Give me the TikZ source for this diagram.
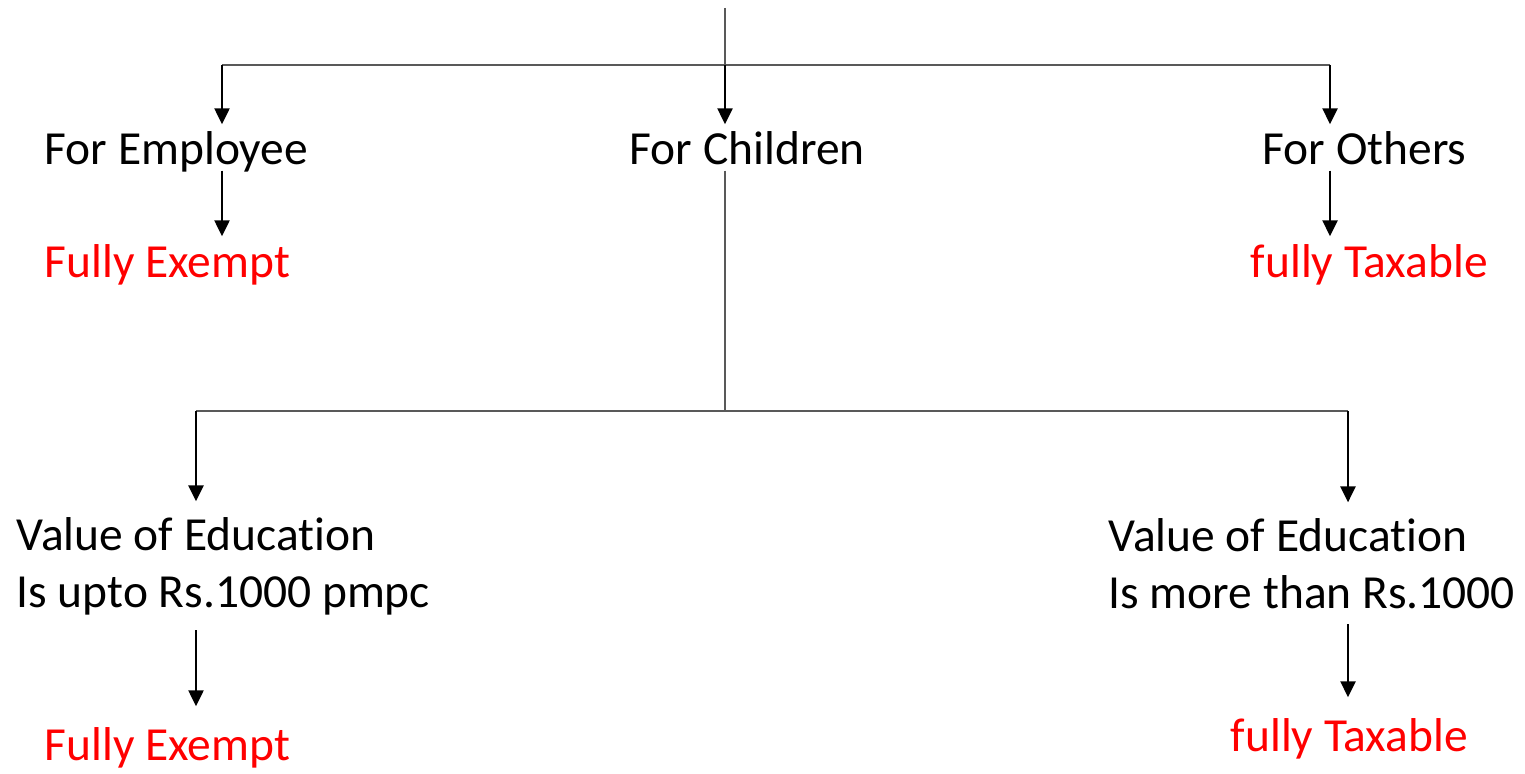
\documentclass[tikz,border=0pt]{standalone}
\usepackage{fontspec}
\setmainfont{Carlito}[Ligatures=NoCommon]
\usetikzlibrary{arrows.meta}
\definecolor{treegray}{RGB}{89,89,89}
\tikzset{
    lbl/.style={font=\fontsize{13.5}{16.2}\selectfont, inner sep=0pt, anchor=base west,
        text height=0.40cm, text depth=0.05cm},
    res/.style={lbl, text=red},
    cond/.style={font=\fontsize{13.5}{16.2}\selectfont, inner xsep=0pt, inner ysep=0.15cm,
        anchor=base west, align=left},
    tree/.style={draw=treegray, line width=0.45pt},
    arr/.style={draw=black, line width=0.7pt, -{Triangle[width=0.15cm,length=0.16cm]}}
}
\begin{document}
\begin{tikzpicture}[x=0.01cm, y=-0.01cm]
    \useasboundingbox (0,0) rectangle (1525,773);
    % first split
    \coordinate (top) at (725,8);
    \coordinate (j1) at (725,65);
    \coordinate (l1) at (222,65);
    \coordinate (r1) at (1330,65);
    \node[lbl] (emp) at (44,165) {For Employee};
    \node[lbl] (chi) at (629,165) {For Children};
    \node[lbl] (oth) at (1262,165) {For Others};
    \node[res] (empres) at (44,277) {Fully Exempt};
    \node[res] (othres) at (1250,277) {fully Taxable};

    % second split
    \coordinate (j2) at (725,411);
    \coordinate (l2) at (196,411);
    \coordinate (r2) at (1348,411);
    \node[cond] (low) at (16,607) {Value of Education\\Is upto Rs.1000 pmpc};
    \node[cond] (high) at (1108,608) {Value of Education\\Is more than Rs.1000};
    \node[res, text height=0.53cm] (lowres) at (44,760) {Fully Exempt};
    \node[res, text height=0.53cm] (highres) at (1230,751) {fully Taxable};

    \draw[tree] (top) -- (j1);
    \draw[tree] (l1) -- (r1);
    \draw[arr] (l1) -- (l1 |- emp.north);
    \draw[arr] (j1) -- (j1 |- chi.north);
    \draw[arr] (r1) -- (r1 |- oth.north);
    \draw[arr] (emp.south -| l1) -- (l1 |- empres.north);
    \draw[arr] (oth.south -| r1) -- (r1 |- othres.north);

    \draw[tree] (chi.south -| j1) -- (j2);
    \draw[tree] (l2) -- (r2);
    \draw[arr] (l2) -- (l2 |- low.north);
    \draw[arr] (r2) -- (r2 |- high.north);
    \draw[arr] (low.south -| l2) -- (l2 |- lowres.north);
    \draw[arr] (high.south -| r2) -- (r2 |- highres.north);
\end{tikzpicture}
\end{document}
